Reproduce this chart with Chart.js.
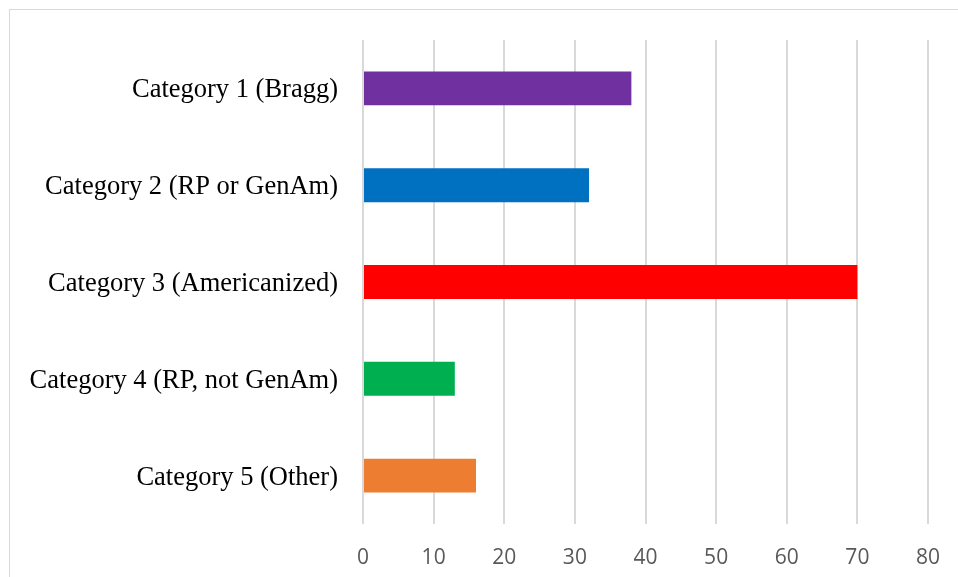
<!DOCTYPE html>
<html>
<head>
<meta charset="utf-8">
<script src="https://cdn.jsdelivr.net/npm/chart.js@4"></script>
<style>
  html, body { margin: 0; padding: 0; background: #fff; overflow: hidden; }
  #frame { position: absolute; left: 9px; top: 9px; width: 980px; height: 600px; border: 1px solid #d9d9d9; box-sizing: border-box; }
  #wrap { position: absolute; left: 0; top: 0; width: 958px; height: 577px; }
</style>
</head>
<body>
<div id="frame"></div>
<div id="wrap"><canvas id="c" width="958" height="577"></canvas></div>
<script>
const categories = [
  "Category 1 (Bragg)",
  "Category 2 (RP or GenAm)",
  "Category 3 (Americanized)",
  "Category 4 (RP, not GenAm)",
  "Category 5 (Other)"
];
const values = [38, 32, 70, 13, 16];
const barColors = ["#7030a0", "#0070c0", "#ff0000", "#00b050", "#ed7d31"];
const xTicks = [0, 10, 20, 30, 40, 50, 60, 70, 80];

new Chart(document.getElementById('c'), {
  type: 'bar',
  data: {
    labels: categories,
    datasets: [{
      data: values,
      backgroundColor: barColors,
      borderWidth: 0,
      barPercentage: 0.7,
      categoryPercentage: 0.5
    }]
  },
  options: {
    indexAxis: 'y',
    responsive: false,
    animation: false,
    devicePixelRatio: 1,
    layout: { padding: { left: 10, right: 30, top: 40, bottom: 0 } },
    plugins: { legend: { display: false }, tooltip: { enabled: false } },
    scales: {
      x: {
        min: xTicks[0],
        max: xTicks[xTicks.length - 1],
        afterBuildTicks: (s) => { s.ticks = xTicks.map(v => ({ value: v })); },
        grid: { color: '#d9d9d9', lineWidth: 2, drawTicks: false },
        border: { display: false },
        ticks: {
          color: '#595959',
          font: { family: 'Open Sans', size: 21 },
          padding: 21
        },
        afterFit: (s) => { s.height = 53; s.paddingLeft = 0; s.paddingRight = 0; }
      },
      y: {
        grid: { display: false },
        border: { display: false },
        ticks: {
          color: '#000',
          font: { family: 'Liberation Serif', size: 26.5 },
          padding: 17,
          labelOffset: 2
        },
        afterFit: (s) => { s.width = 353; }
      }
    }
  }
});
</script>
</body>
</html>
